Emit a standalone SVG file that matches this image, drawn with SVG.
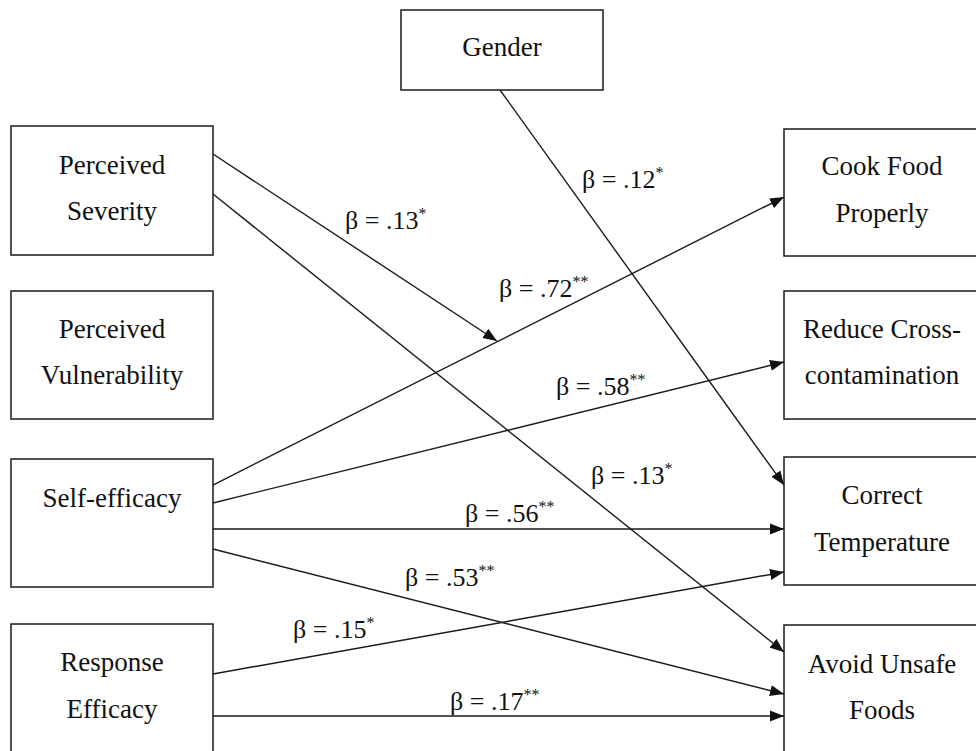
<svg xmlns="http://www.w3.org/2000/svg" width="976" height="751" viewBox="0 0 976 751">
<defs>
<style>
.box{fill:#fff;stroke:#1a1a1a;stroke-width:1.5}
text{font-family:'Liberation Serif','DejaVu Serif',serif}
.t{font-size:27px;fill:#111;text-anchor:middle}
.l{font-size:26px;fill:#111}
.sup{font-size:16px}
.c{stroke:#1a1a1a;stroke-width:1.4;fill:none;marker-end:url(#ah)}
</style>
<marker id="ah" markerUnits="userSpaceOnUse" markerWidth="15" markerHeight="12" refX="14" refY="6" orient="auto">
<path d="M0,0.5 L14,6 L0,11.5 Z" fill="#111"/>
</marker>
</defs>
<rect width="976" height="751" fill="#fff"/>
<g id="gender"><rect class="box" x="401" y="10" width="202" height="80"/><text class="t" x="502" y="56">Gender</text></g>
<g id="perceived-severity"><rect class="box" x="11" y="126" width="202" height="129"/><text class="t" x="112" y="174">Perceived</text><text class="t" x="112" y="220">Severity</text></g>
<g id="perceived-vulnerability"><rect class="box" x="11" y="291" width="202" height="128"/><text class="t" x="112" y="338">Perceived</text><text class="t" x="112" y="384">Vulnerability</text></g>
<g id="self-efficacy"><rect class="box" x="11" y="459" width="202" height="128"/><text class="t" x="112" y="507">Self-efficacy</text></g>
<g id="response-efficacy"><rect class="box" x="11" y="624" width="202" height="140"/><text class="t" x="112" y="671">Response</text><text class="t" x="112" y="718">Efficacy</text></g>
<g id="cook-food"><rect class="box" x="784" y="129" width="200" height="127"/><text class="t" x="882" y="175">Cook Food</text><text class="t" x="882" y="222">Properly</text></g>
<g id="reduce-cross"><rect class="box" x="784" y="291" width="200" height="128"/><text class="t" x="882" y="338">Reduce Cross-</text><text class="t" x="882" y="384">contamination</text></g>
<g id="correct-temperature"><rect class="box" x="784" y="457" width="200" height="128"/><text class="t" x="882" y="504">Correct</text><text class="t" x="882" y="551">Temperature</text></g>
<g id="avoid-unsafe"><rect class="box" x="784" y="625" width="200" height="140"/><text class="t" x="882" y="673">Avoid Unsafe</text><text class="t" x="882" y="719">Foods</text></g>
<g id="connectors">
<line class="c" x1="500" y1="90" x2="784" y2="485"/>
<line class="c" x1="213" y1="154" x2="497" y2="341"/>
<line class="c" x1="213" y1="194" x2="784" y2="652"/>
<line class="c" x1="213" y1="485" x2="784" y2="197"/>
<line class="c" x1="213" y1="503" x2="784" y2="362"/>
<line class="c" x1="213" y1="529" x2="784" y2="529"/>
<line class="c" x1="213" y1="549" x2="784" y2="694"/>
<line class="c" x1="213" y1="674" x2="784" y2="572"/>
<line class="c" x1="213" y1="716" x2="784" y2="716"/>
</g>
<g id="labels">
<text class="l" x="345" y="229">β = .13<tspan class="sup" dy="-10">*</tspan></text>
<text class="l" x="582" y="188">β = .12<tspan class="sup" dy="-10">*</tspan></text>
<text class="l" x="499" y="297">β = .72<tspan class="sup" dy="-10">**</tspan></text>
<text class="l" x="556" y="395">β = .58<tspan class="sup" dy="-10">**</tspan></text>
<text class="l" x="591" y="484">β = .13<tspan class="sup" dy="-10">*</tspan></text>
<text class="l" x="465" y="522">β = .56<tspan class="sup" dy="-10">**</tspan></text>
<text class="l" x="405" y="586">β = .53<tspan class="sup" dy="-10">**</tspan></text>
<text class="l" x="293" y="638">β = .15<tspan class="sup" dy="-10">*</tspan></text>
<text class="l" x="450" y="710">β = .17<tspan class="sup" dy="-10">**</tspan></text>
</g>
</svg>
